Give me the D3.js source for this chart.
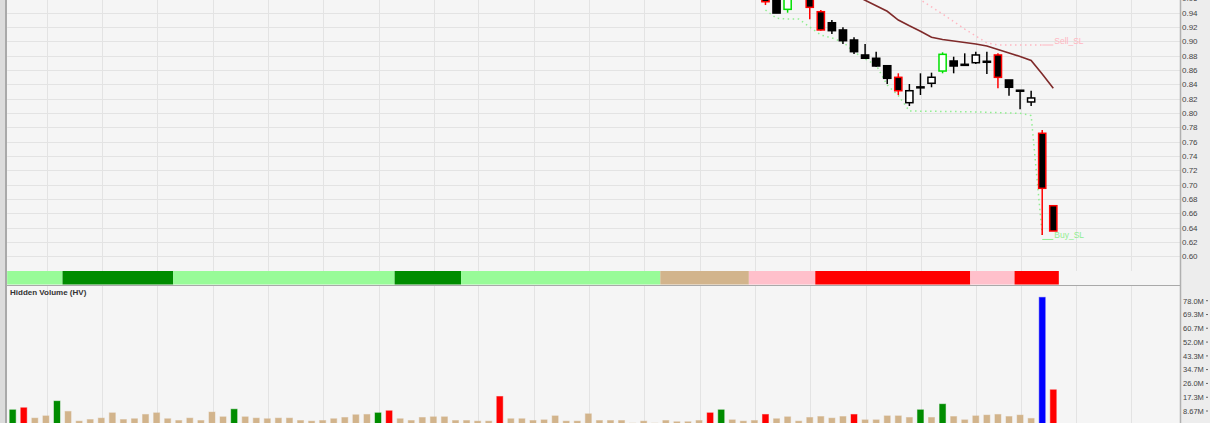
<!DOCTYPE html>
<html><head><meta charset="utf-8">
<script src="https://cdn.jsdelivr.net/npm/d3@7"></script>
<style>
html,body{margin:0;padding:0;background:#f5f5f5;overflow:hidden}
svg{display:block}
text{font-family:"Liberation Sans",Arial,sans-serif}
</style></head><body>
<svg id="c" width="1210" height="423"></svg>
<script>
// ---------------- DATA ----------------
const slots = 106; // trading-day slots across the plot (95 with data)
const volume = [9.4,10.7,4.2,5.6,14.9,8.4,2.3,3.3,4.2,7.5,
  3.3,3.8,6.5,7.5,3.8,2.7,4.2,2.7,8.0,5.0,
  9.8,5.0,4.2,3.8,4.2,4.2,2.7,2.3,2.7,3.8,
  4.6,6.3,6.5,7.5,8.8,3.8,2.7,4.6,5.0,5.0,
  2.7,2.7,2.3,2.3,17.8,3.8,3.8,2.7,3.1,5.6,
  2.3,2.3,6.9,2.7,2.7,2.7,1.0,2.3,1.0,2.7,
  1.9,1.9,2.7,7.5,9.4,3.1,2.3,2.7,6.5,3.8,
  5.0,2.3,4.6,5.2,4.2,5.2,6.5,3.1,3.1,5.6,
  5.6,4.6,9.4,4.6,13.0,5.2,3.1,5.6,6.1,6.5,
  5.2,6.1,4.0,80.1,22.0];
const volumeType = ["g","r","t","t","g","t","t","t","t","t",
  "t","t","t","t","t","t","t","t","t","t",
  "g","t","t","t","t","t","t","t","t","t",
  "t","t","t","g","r","t","t","t","t","t",
  "t","t","t","t","r","t","t","t","t","t",
  "t","t","t","t","t","t","t","t","t","t",
  "t","t","t","r","g","t","t","t","r","t",
  "t","t","t","t","t","t","r","t","t","t",
  "t","t","g","t","g","t","t","t","t","t",
  "t","t","t","b","r"];
const bandStart = [0,5,15,35,41,59,67,73,87,91];
const bandEnd   = [4,14,34,40,58,66,72,86,90,94];
const bandColor = ["#98fb98","#008c00","#98fb98","#008c00","#98fb98","#d2b48c","#ffc0cb","#ff0000","#ffc0cb","#ff0000"];

const candleIdx = [68,69,70,71,72,73,74,75,76,77,78,79,80,81,82,83,84,85,86,87,88,89,90,91,92,93,94];
const openP  = [0.975,0.965,0.9447,0.985,0.975,0.9414,0.926,0.9159,0.9019,0.881,0.8764,0.866,0.8498,0.8144,0.8355,0.8415,0.8586,0.8726,0.8665,0.8702,0.8722,0.881,0.8461,0.8318,0.8154,0.7717,0.6706];
const highP  = [0.985,0.968,0.968,0.99,0.98,0.9438,0.9298,0.9196,0.9057,0.8963,0.8856,0.867,0.8554,0.8405,0.8554,0.8563,0.8847,0.8786,0.8833,0.8856,0.8856,0.8833,0.8461,0.8318,0.8311,0.7763,0.6706];
const lowP   = [0.9507,0.9395,0.940,0.962,0.9308,0.9149,0.9103,0.8963,0.8824,0.8764,0.8646,0.8405,0.8251,0.8098,0.8251,0.8359,0.8554,0.8554,0.8665,0.8684,0.8545,0.8345,0.8242,0.8052,0.8098,0.6297,0.6353];
const closeP = [0.9553,0.9395,0.965,0.975,0.9475,0.9159,0.9149,0.9009,0.8856,0.8764,0.8656,0.8484,0.8311,0.8311,0.8365,0.8499,0.8819,0.8656,0.8680,0.881,0.8712,0.8498,0.8359,0.8310,0.821,0.6949,0.6353];
const candleColor = ["#ff0000","#000000","#00e000","#000000","#ff0000","#ff0000","#000000","#000000","#000000","#000000","#000000","#000000","#ff0000","#000000","#000000","#000000","#00e000","#000000","#000000","#000000","#000000","#ff0000","#000000","#000000","#000000","#ff0000","#ff0000"];

const maIdx   = [75,76,77,78,79,80,81,82,83,84,85,86,87,88,89,90,91,92,93,94];
const maValue = [0.975,0.965,0.9574,0.9498,0.942,0.9298,0.9217,0.9142,0.9057,0.9026,0.9005,0.8984,0.8963,0.8935,0.8887,0.8838,0.8789,0.8733,0.8545,0.8345];

const buySLIdx = [68,69,70,71,72,73,74,75,76,77,78,79,80,81,82,83,84,85,86,87,88,89,90,91,92,93];
const buySL    = [0.9438,0.9322,0.9312,0.9312,0.920,0.9089,0.9047,0.8991,0.8852,0.8754,0.867,0.839,0.8245,0.8028,0.8026,0.8024,0.8022,0.802,0.8018,0.8015,0.801,0.8005,0.80,0.7995,0.7965,0.630];
const buySLLevel = 0.6235;

const sellSLIdx = [81,82,83,84,85,86,87,88,89,90,91,92,93];
const sellSL    = [0.966,0.958,0.948,0.9382,0.9277,0.9172,0.9075,0.8977,0.8949,0.8949,0.8949,0.8949,0.8949];
const sellSLLevel = 0.8949;

const priceTicks = [0.60,0.62,0.64,0.66,0.68,0.70,0.72,0.74,0.76,0.78,0.80,0.82,0.84,0.86,0.88,0.90,0.92,0.94,0.96];
const volTicks = [8.67,17.3,26.0,34.7,43.3,52.0,60.7,69.3,78.0];
const volTickLabels = ["8.67M","17.3M","26.0M","34.7M","43.3M","52.0M","60.7M","69.3M","78.0M"];
const gridIdx = [3,8,13,18,23,28,33,38,42,47,52,57,62,67,72,77,82,87,91,96,101];
const panelTitle = "Hidden Volume (HV)";

// ---------------- LAYOUT ----------------
const W = 1210, H = 423;
const plotL = 7.17, plotR = 1180;
const priceTop = 0, priceBot = 271;
const bandTop = 271, bandBot = 284.5;
const volTop = 286, volBot = 423;

const svg = d3.select("#c");
const x = d3.scaleBand().domain(d3.range(slots)).range([plotL, plotL + slots * 11.07]).paddingInner(0).paddingOuter(0);
const bw = x.bandwidth();
const cx = i => x(i) + bw / 2;
const y = d3.scaleLinear().domain([0.60, 0.94]).range([256.3, 12.7]);
const yv = d3.scaleLinear().domain([0, 78]).range([424.8, 300.7]);

// backgrounds
svg.append("rect").attr("x",0).attr("y",0).attr("width",W).attr("height",H).attr("fill","#f5f5f5");
svg.append("rect").attr("x",plotR).attr("y",0).attr("width",W-plotR).attr("height",H).attr("fill","#ededed");

const defs = svg.append("defs");
defs.append("clipPath").attr("id","cp").append("rect").attr("x",plotL).attr("y",priceTop).attr("width",plotR-plotL).attr("height",priceBot-priceTop);
defs.append("clipPath").attr("id","cv").append("rect").attr("x",plotL).attr("y",volTop).attr("width",plotR-plotL).attr("height",volBot-volTop);

// grid
const grid = svg.append("g");
grid.selectAll("line.h").data(priceTicks).join("line")
  .attr("x1",plotL).attr("x2",plotR).attr("y1",d=>Math.round(y(d))+0.5).attr("y2",d=>Math.round(y(d))+0.5)
  .attr("stroke","#e3e3e3").attr("stroke-width",1);
grid.selectAll("line.v1").data(gridIdx).join("line")
  .attr("x1",d=>Math.round(cx(d)+0.6)+0.5).attr("x2",d=>Math.round(cx(d)+0.6)+0.5)
  .attr("y1",0).attr("y2",bandTop).attr("stroke","#e3e3e3");
grid.selectAll("line.v2").data(gridIdx).join("line").attr("class","v2")
  .attr("x1",d=>Math.round(cx(d)+0.6)+0.5).attr("x2",d=>Math.round(cx(d)+0.6)+0.5)
  .attr("y1",volTop).attr("y2",H).attr("stroke","#e3e3e3");

// price panel
const pg = svg.append("g").attr("clip-path","url(#cp)");
const line = d3.line().x(d=>cx(d[0])).y(d=>y(d[1]));
pg.append("path").datum(sellSLIdx.map((d,i)=>[d,sellSL[i]]))
  .attr("d",line).attr("fill","none").attr("stroke","#ffb6c1").attr("stroke-width",1.5).attr("stroke-dasharray","1.5,3.5");
pg.append("path").datum(buySLIdx.map((d,i)=>[d,buySL[i]]))
  .attr("d",line).attr("fill","none").attr("stroke","#90ee90").attr("stroke-width",1.5).attr("stroke-dasharray","1.5,3.5");
// SL labels
pg.append("line").attr("x1",cx(93)).attr("x2",cx(94)).attr("y1",y(sellSLLevel)).attr("y2",y(sellSLLevel)).attr("stroke","#ffb6c1").attr("stroke-width",1);
pg.append("text").attr("x",cx(94)+1).attr("y",y(sellSLLevel)-1).attr("font-size",8.5).attr("fill","#ffb6c1").text("Sell_SL");
pg.append("line").attr("x1",cx(93)).attr("x2",cx(94)).attr("y1",y(buySLLevel)).attr("y2",y(buySLLevel)).attr("stroke","#90ee90").attr("stroke-width",1);
pg.append("text").attr("x",cx(94)+1).attr("y",y(buySLLevel)-1).attr("font-size",8.5).attr("fill","#90ee90").text("Buy_SL");

// moving average
pg.append("path").datum(maIdx.map((d,i)=>[d,maValue[i]]))
  .attr("d",line).attr("fill","none").attr("stroke","#7f2a2a").attr("stroke-width",1.6);

// candles
const candles = candleIdx.map((d,i)=>({i:d,o:openP[i],h:highP[i],l:lowP[i],c:closeP[i],col:candleColor[i]}));
const cg = pg.selectAll("g.cd").data(candles).join("g");
cg.append("line").attr("x1",d=>cx(d.i)).attr("x2",d=>cx(d.i)).attr("y1",d=>y(d.h)).attr("y2",d=>y(d.l))
  .attr("stroke",d=>d.col).attr("stroke-width",1.5);
cg.append("rect").attr("x",d=>cx(d.i)-3.6).attr("width",7.2)
  .attr("y",d=>y(Math.max(d.o,d.c))).attr("height",d=>Math.max(1,Math.abs(y(d.o)-y(d.c))))
  .attr("fill",d=>d.c<d.o?"#000000":"#ffffff").attr("stroke",d=>d.col).attr("stroke-width",1.5);

// color band
svg.append("g").selectAll("rect").data(bandStart.map((s,i)=>({s,e:bandEnd[i],c:bandColor[i]}))).join("rect")
  .attr("x",d=>x(d.s)).attr("width",d=>x(d.e)+bw-x(d.s)).attr("y",bandTop).attr("height",bandBot-bandTop).attr("fill",d=>d.c);

// separator
svg.append("line").attr("x1",0).attr("x2",plotR).attr("y1",285.5).attr("y2",285.5).attr("stroke","#a9a9a9").attr("stroke-width",1);

// volume bars
const volCol = {t:"#d2b48c",g:"#008c00",r:"#ff0000",b:"#0000ff"};
svg.append("g").attr("clip-path","url(#cv)").selectAll("rect").data(volume.map((v,i)=>({i,v,t:volumeType[i]}))).join("rect")
  .attr("x",d=>cx(d.i)-3).attr("width",6).attr("y",d=>yv(d.v)).attr("height",d=>yv(0)-yv(d.v))
  .attr("fill",d=>volCol[d.t]).attr("stroke",d=>volCol[d.t]).attr("stroke-opacity",0.45).attr("stroke-width",1);

svg.append("text").attr("x",10).attr("y",295).attr("font-size",8).attr("font-weight","bold").attr("fill","#333").text(panelTitle);

// right axes
svg.append("line").attr("x1",plotR+0.5).attr("x2",plotR+0.5).attr("y1",0).attr("y2",H).attr("stroke","#b0b0b0").attr("stroke-width",1.5);
const ax = svg.append("g").attr("transform",`translate(${plotR},0)`)
  .call(d3.axisRight(y).tickValues(priceTicks).tickFormat(d3.format(".2f")).tickSize(0).tickPadding(2));
ax.select(".domain").remove();
ax.selectAll("text").attr("font-family","'Liberation Sans',Arial,sans-serif").attr("font-size",8).attr("fill","#444");

const axv = svg.append("g").attr("transform",`translate(${plotR},0)`)
  .call(d3.axisRight(yv).tickValues(volTicks).tickFormat((d,i)=>volTickLabels[i]).tickSize(0).tickPadding(3));
axv.select(".domain").remove();
axv.selectAll("text").attr("font-family","'Liberation Sans',Arial,sans-serif").attr("font-size",7.5).attr("fill","#444");
svg.append("g").selectAll("line").data(volTicks).join("line")
  .attr("x1",1206).attr("x2",1208).attr("y1",d=>yv(d)).attr("y2",d=>yv(d)).attr("stroke","#666");

// left border
svg.append("rect").attr("x",0).attr("y",0).attr("width",5).attr("height",H).attr("fill","#dcdcdc");
svg.append("rect").attr("x",5).attr("y",0).attr("width",2).attr("height",H).attr("fill","#a9a9a9");
</script>
</body></html>
